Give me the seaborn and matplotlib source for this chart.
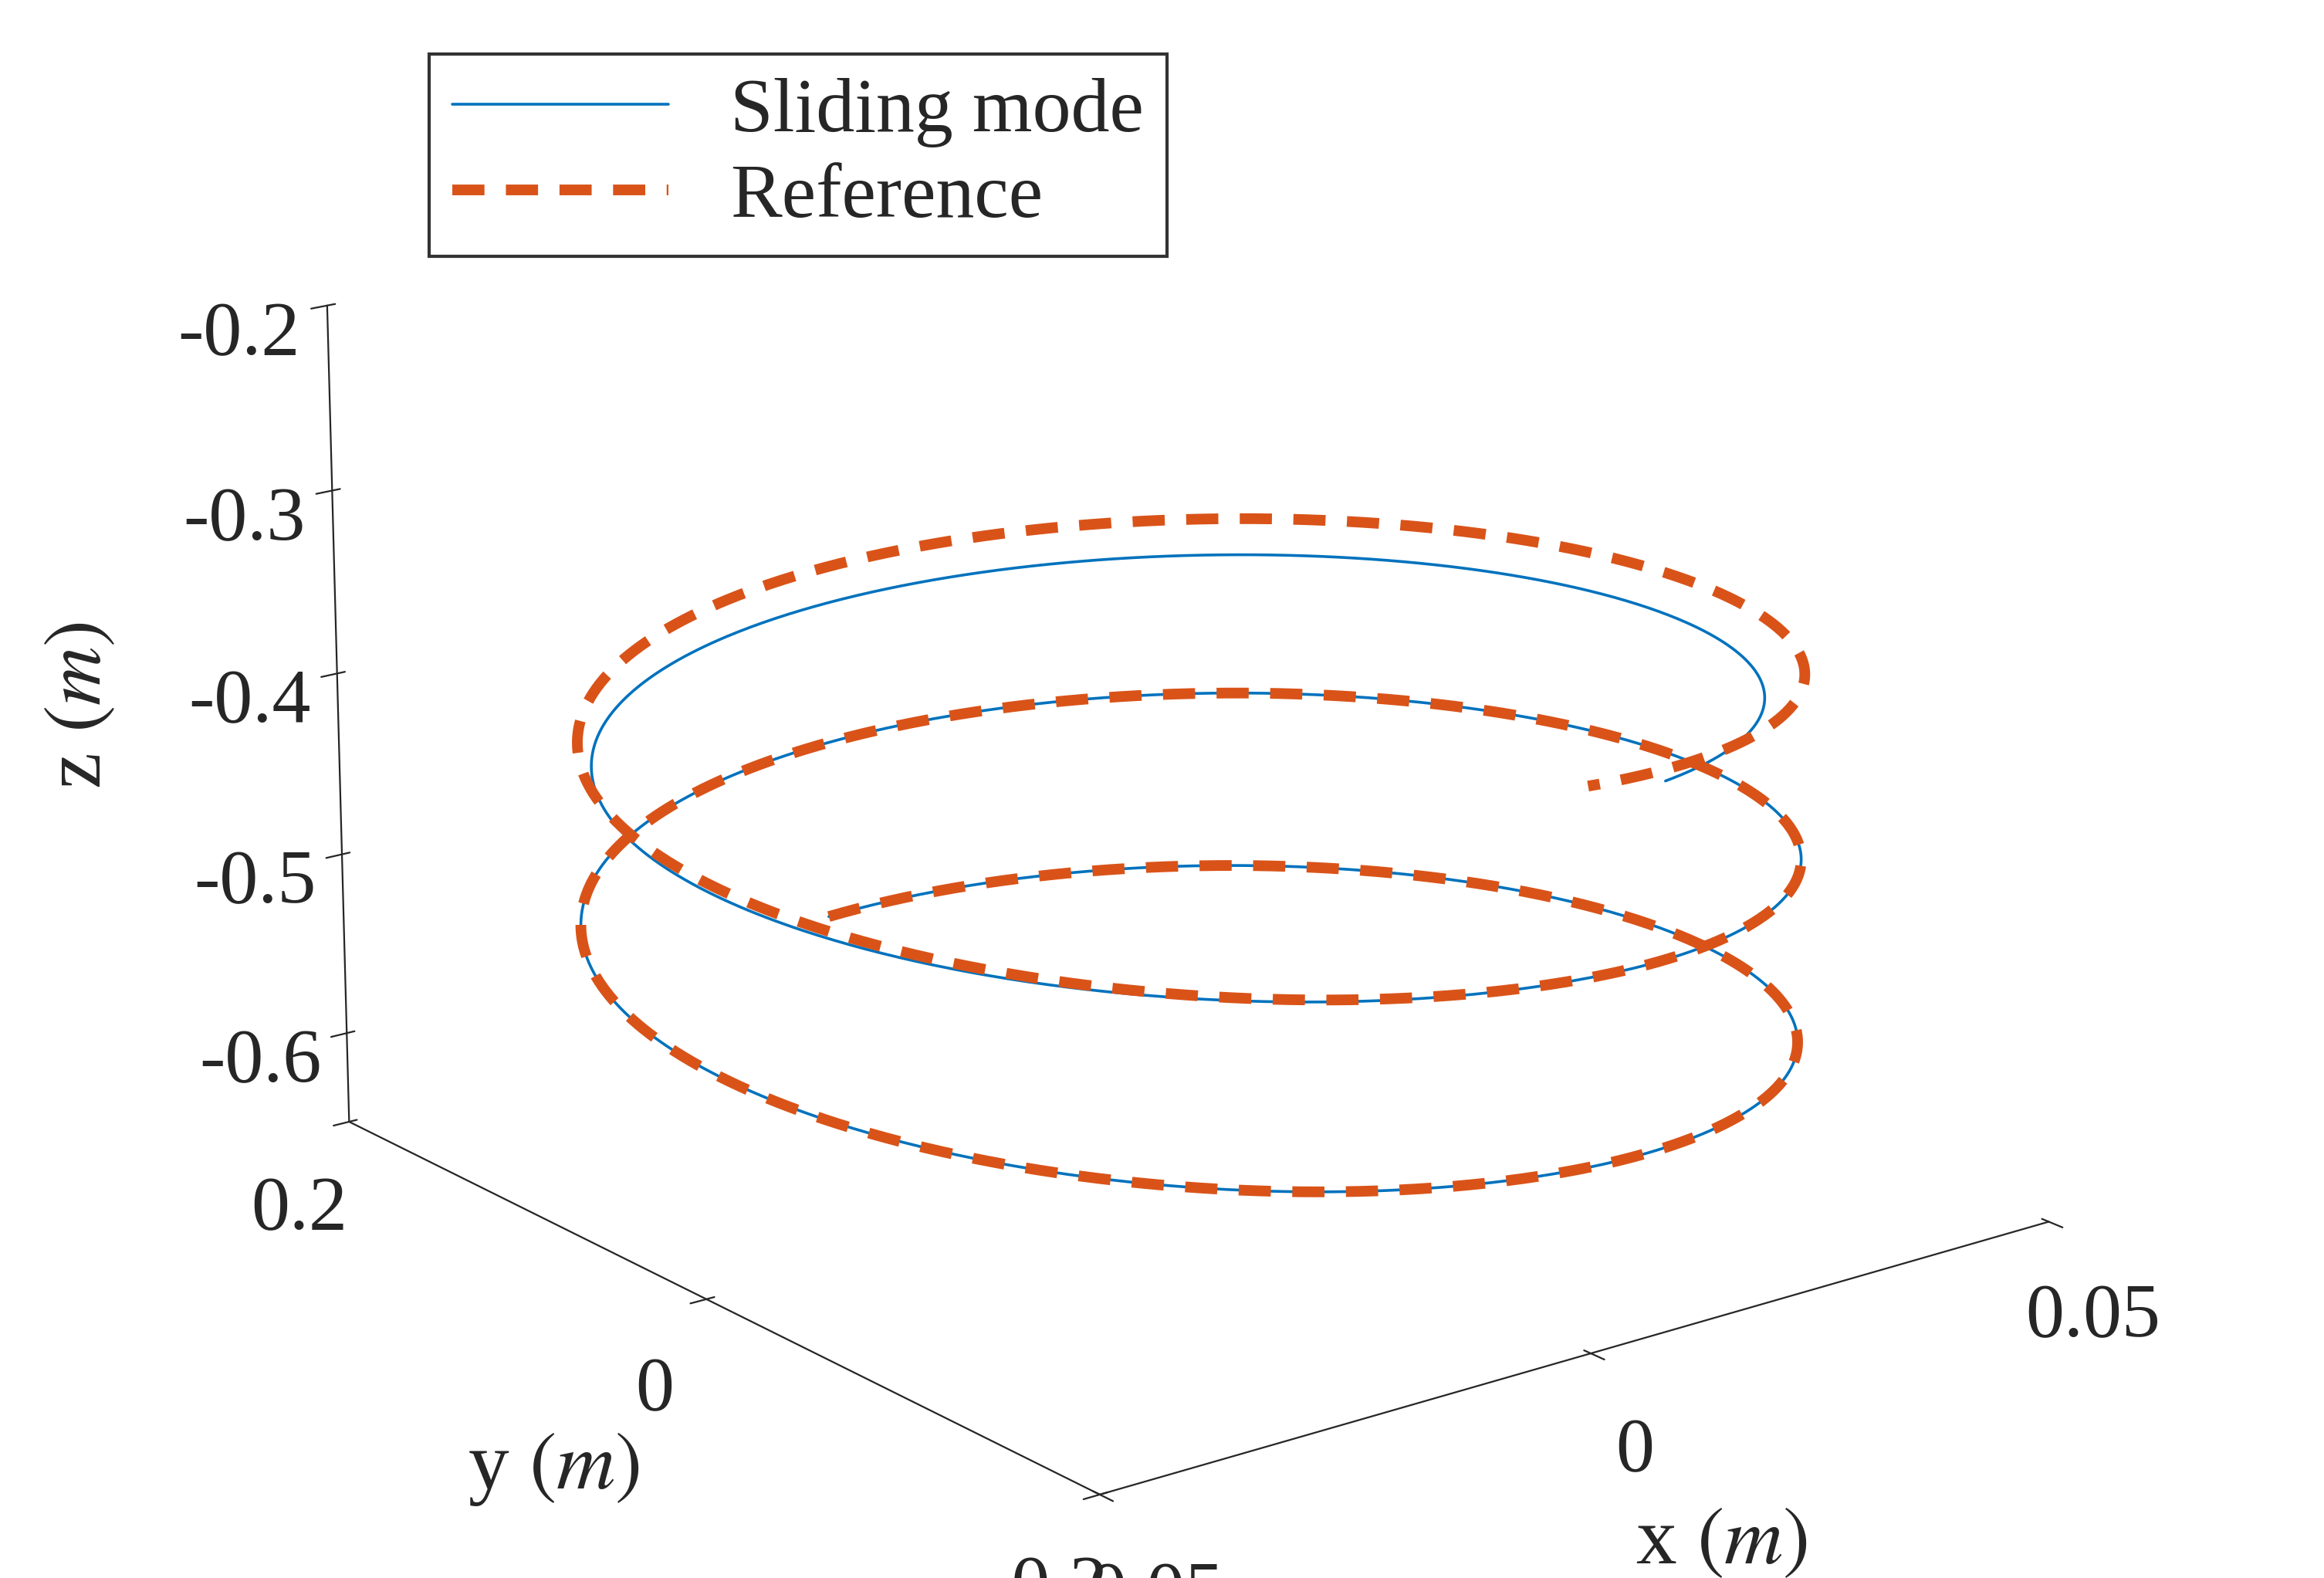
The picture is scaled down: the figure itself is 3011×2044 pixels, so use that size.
import numpy as np
import matplotlib.pyplot as plt
import seaborn as sns

sns.set_style("white")
plt.rcParams['font.family'] = ['Liberation Serif', 'DejaVu Serif']
plt.rcParams['mathtext.fontset'] = 'stix'

# helix: radius per axis, start height, rise per turn
RADIUS_X = 0.05
RADIUS_Y = 0.2
Z_START = -0.6
PITCH = 0.1
TURNS = 2.5
START_ANGLE = 1.55
# sliding mode drifts inward and down during the last turn
DRIFT_RADIUS = 0.12
DRIFT_Z = -0.025
SLIDE_TURNS = 2.45

t = START_ANGLE - np.linspace(0, TURNS * 2 * np.pi, 1500)
ref_x = RADIUS_X * np.cos(t)
ref_y = RADIUS_Y * np.sin(t)
ref_z = Z_START + PITCH * (START_ANGLE - t) / (2 * np.pi)

ts = START_ANGLE - np.linspace(0, SLIDE_TURNS * 2 * np.pi, 1500)
ramp = np.clip((START_ANGLE - ts) / (2 * np.pi) - 1.5, 0, 1)
sm_x = RADIUS_X * (1 - DRIFT_RADIUS * ramp * 0.3) * np.cos(ts)
sm_y = RADIUS_Y * (1 - DRIFT_RADIUS * ramp) * np.sin(ts)
sm_z = Z_START + PITCH * (START_ANGLE - ts) / (2 * np.pi) + DRIFT_Z * ramp

fig = plt.figure(figsize=(15.055, 10.22), dpi=200)
ax = fig.add_axes([-0.06, -0.1, 1.12, 1.2], projection='3d')
ax.plot(sm_x, sm_y, sm_z, color='#0072BD', lw=1.3, label='Sliding mode')
ax.plot(ref_x, ref_y, ref_z, color='#D95319', lw=5, ls=(0, (3, 2)), label='Reference')

ax.set_xlim(-0.05, 0.05)
ax.set_ylim(-0.2, 0.2)
ax.set_zlim(-0.65, -0.2)
ax.set_xticks([-0.05, 0, 0.05])
ax.set_yticks([-0.2, 0, 0.2])
ax.set_zticks([-0.6, -0.5, -0.4, -0.3, -0.2])
ax.set_xticklabels(['-0.05', '0', '0.05'])
ax.set_yticklabels(['-0.2', '0', '0.2'])
ax.set_zticklabels(['-0.6', '-0.5', '-0.4', '-0.3', '-0.2'])
ax.tick_params(labelsize=36, pad=16)
for a in (ax.xaxis, ax.yaxis, ax.zaxis):
    a.set_rotate_label(False)
ax.set_xlabel('x $(m)$', fontsize=38, labelpad=50, rotation=0)
ax.set_ylabel('y $(m)$', fontsize=38, labelpad=50, rotation=0)
ax.set_zlabel('z $(m)$', fontsize=38, labelpad=50, rotation=90)
ax.view_init(elev=18, azim=-127.5)
ax.set_box_aspect((1.3, 1.4, 0.95))
ax.grid(False)
for a in (ax.xaxis, ax.yaxis, ax.zaxis):
    a.pane.fill = False
    a.pane.set_edgecolor('none')
    a.line.set_color('#262626')

handles, labels = ax.get_legend_handles_labels()
leg = fig.legend(handles, labels, loc='upper left', bbox_to_anchor=(0.168, 0.99),
                 fontsize=36, frameon=True, fancybox=False, edgecolor='black',
                 handlelength=2.8, borderpad=0.3, labelspacing=0.2)
leg.get_frame().set_linewidth(1.5)
fig.savefig('out.png', dpi=200)
